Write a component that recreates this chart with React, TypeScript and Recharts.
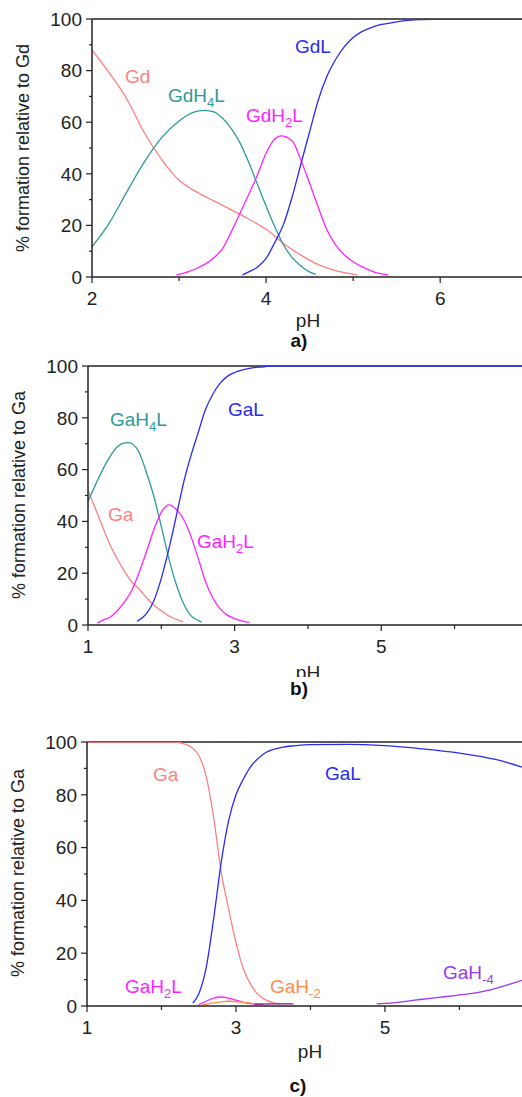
import React from "react";
import { LineChart, Line, XAxis, YAxis, ReferenceLine } from "recharts";

const FONT = "'Liberation Sans', Arial, sans-serif";

// ---- panel a) Gd ----
const gdPhA = [2.0, 2.2, 2.4, 2.6, 2.8, 3.0, 3.2, 3.4, 3.6, 3.8, 4.0, 4.2, 4.4, 4.6, 4.8, 5.0, 5.05];
const gdValA = [88, 79, 69, 56, 45.5, 37.5, 33, 29.5, 26, 22.5, 18.5, 13, 8.5, 4.8, 2.5, 1.1, 0.8];
const gdh4lPhA = [2.0, 2.2, 2.4, 2.6, 2.8, 3.0, 3.1, 3.2, 3.3, 3.4, 3.5, 3.6, 3.7, 3.8, 3.9, 4.0, 4.1, 4.2, 4.3, 4.4, 4.5, 4.57];
const gdh4lValA = [11.7, 21, 33, 44.5, 54, 60.5, 62.8, 64.2, 64.6, 64, 61.5, 57.5, 52, 44.5, 36, 27.5, 19.5, 12.5, 7.5, 4.3, 2, 1];
const gdh2lPhA = [2.97, 3.1, 3.2, 3.3, 3.4, 3.5, 3.6, 3.7, 3.8, 3.9, 4.0, 4.1, 4.17, 4.3, 4.4, 4.5, 4.6, 4.7, 4.8, 4.9, 5.0, 5.1, 5.2, 5.3, 5.4];
const gdh2lValA = [0.8, 2, 3.3, 5, 7.5, 11, 17.5, 24.7, 32, 39.5, 48, 53.5, 54.7, 52.7, 45.3, 36.3, 27, 18.2, 12.4, 8.5, 5.9, 4, 2.5, 1.4, 0.8];
const gdlPhA = [3.73, 3.8, 3.9, 4.0, 4.1, 4.2, 4.3, 4.4, 4.5, 4.6, 4.7, 4.8, 4.9, 5.0, 5.1, 5.2, 5.3, 5.4, 5.6, 5.8, 6.0, 6.94];
const gdlValA = [0.8, 2, 3.8, 7.2, 13.4, 20.4, 31.1, 43.8, 56.3, 68.6, 77.9, 84.4, 89.3, 92.8, 95.1, 96.6, 97.7, 98.3, 99.4, 99.8, 100, 100];

// ---- panel b) Ga ----
const gaPhB = [1.0, 1.1, 1.2, 1.3, 1.4, 1.5, 1.6, 1.7, 1.8, 1.9, 2.0, 2.1, 2.2, 2.3];
const gaValB = [52, 45, 37.8, 31, 25.5, 20.6, 16.5, 13.8, 10.5, 7.6, 5.5, 3.5, 2.3, 1.2];
const gah4lPhB = [1.0, 1.1, 1.2, 1.3, 1.4, 1.5, 1.55, 1.6, 1.7, 1.8, 1.9, 2.0, 2.1, 2.2, 2.3, 2.4, 2.5, 2.55];
const gah4lValB = [47.7, 54, 60, 65, 68.8, 70.3, 70.4, 70, 66.5, 58.6, 49.5, 38, 26, 16, 8.5, 3.7, 1.8, 1.2];
const gah2lPhB = [1.13, 1.2, 1.3, 1.4, 1.5, 1.6, 1.7, 1.8, 1.9, 2.0, 2.1, 2.2, 2.3, 2.4, 2.5, 2.6, 2.7, 2.8, 2.9, 3.0, 3.1, 3.2];
const gah2lValB = [0.8, 1.8, 3, 5.5, 9, 13.5, 20.5, 28.5, 37, 43.5, 46.4, 44.8, 41, 34.5, 26, 17, 10.5, 6.3, 3.8, 2.5, 1.6, 1];
const galPhB = [1.67, 1.8, 1.9, 2.0, 2.1, 2.2, 2.3, 2.4, 2.5, 2.6, 2.7, 2.8, 2.9, 3.0, 3.2, 3.4, 3.5, 6.92];
const galValB = [1.4, 4.5, 9.5, 18, 29, 41.5, 54.5, 65, 74, 83, 89, 93.3, 96, 97.5, 99.1, 99.7, 100, 100];

// ---- panel c) Ga ----
const gaPhC = [1.0, 2.2, 2.3, 2.4, 2.5, 2.6, 2.7, 2.8, 2.9, 3.0, 3.1, 3.2, 3.3, 3.4, 3.5, 3.6];
const gaValC = [100, 100, 99.3, 98, 95, 87, 71.5, 51, 37, 24, 14, 8, 4.2, 2.3, 1.2, 0.8];
const galPhC = [2.42, 2.5, 2.6, 2.7, 2.8, 2.9, 3.0, 3.1, 3.2, 3.3, 3.4, 3.6, 3.8, 4.0, 4.5, 5.0, 5.5, 6.0, 6.5, 6.84];
const galValC = [1.1, 4.5, 14.5, 33, 54, 70, 80, 86, 90.8, 93.8, 96, 97.9, 98.6, 99, 99.1, 98.6, 97.4, 95.8, 93.3, 90.5];
const gah2lPhC = [2.5, 2.6, 2.7, 2.8, 2.9, 3.0, 3.1, 3.2, 3.3];
const gah2lValC = [0.5, 1.8, 3, 3.4, 3, 2.2, 1.4, 0.9, 0.6];
const gahm2PhC = [2.55, 2.7, 2.8, 2.9, 3.0, 3.1, 3.2, 3.3, 3.37];
const gahm2ValC = [0.4, 1.2, 1.6, 1.8, 1.7, 1.4, 1.1, 0.8, 0.6];
const gahm1PhC = [3.25, 3.5, 3.77];
const gahm1ValC = [0.7, 0.8, 0.8];
const gahm4PhC = [4.89, 5.0, 5.2, 5.4, 5.6, 5.8, 6.0, 6.2, 6.4, 6.6, 6.84];
const gahm4ValC = [0.8, 1.0, 1.5, 2.2, 2.9, 3.5, 4.2, 4.9, 6.0, 7.6, 9.7];

const yTicks = [0, 10, 20, 30, 40, 50, 60, 70, 80, 90, 100];

const SALMON = "#ff8080";
const TEAL = "#2e9a96";
const MAGENTA = "#ff22ff";
const BLUE = "#2a2af5";
const ORANGE = "#ff8c4a";
const VIOLET = "#9a35f5";
const DARKPURPLE = "#7a1a90";

type Pt = { ph: number; v: number };
const zip = (xs: number[], ys: number[]): Pt[] => xs.map((x, i) => ({ ph: x, v: ys[i] }));

interface Series {
  name: string;
  color: string;
  data: Pt[];
}

const YTick = (props: any) => {
  const { x, y, payload } = props;
  const major = payload.value % 20 === 0;
  return (
    <g>
      <line x1={x - (major ? 6 : 3)} x2={x} y1={y} y2={y} stroke="#222" strokeWidth={1.2} />
      {major && (
        <text x={x - 10} y={y + 6.8} textAnchor="end" fontSize={19} fill="#222" fontFamily={FONT}>
          {payload.value}
        </text>
      )}
    </g>
  );
};

const makeXTick = (majors: number[]) => (props: any) => {
  const { x, y, payload } = props;
  const major = majors.includes(payload.value);
  return (
    <g>
      <line x1={x} x2={x} y1={y} y2={y + (major ? 6 : 4)} stroke="#222" strokeWidth={1.2} />
      {major && (
        <text x={x} y={y + 28} textAnchor="middle" fontSize={19} fill="#222" fontFamily={FONT}>
          {payload.value}
        </text>
      )}
    </g>
  );
};

interface PanelProps {
  top: number;
  height: number;
  plotTop: number;
  plotBottom: number;
  left: number;
  domain: [number, number];
  xTicks: number[];
  majors: number[];
  series: Series[];
}

function Panel({ top, height, plotTop, plotBottom, left, domain, xTicks, majors, series }: PanelProps) {
  return (
    <div style={{ position: "absolute", left: 0, top, width: 522, height }}>
      <LineChart width={522} height={height} margin={{ top: plotTop, right: 0, bottom: 0, left: 0 }}>
        <XAxis
          type="number"
          dataKey="ph"
          domain={domain}
          ticks={xTicks}
          allowDataOverflow
          height={height - plotBottom}
          axisLine={{ stroke: "#222", strokeWidth: 1.5 }}
          tickLine={false}
          tickSize={0}
          tickMargin={0}
          tick={makeXTick(majors)}
          interval={0}
        />
        <YAxis
          type="number"
          domain={[0, 100]}
          ticks={yTicks}
          allowDataOverflow
          width={left}
          axisLine={{ stroke: "#222", strokeWidth: 1.5 }}
          tickLine={false}
          tickSize={0}
          tickMargin={0}
          tick={YTick}
          interval={0}
        />
        <ReferenceLine y={100} stroke="#222" strokeWidth={1.5} />
        {series.map((s) => (
          <Line
            key={s.name}
            data={s.data}
            dataKey="v"
            name={s.name}
            type="monotone"
            stroke={s.color}
            strokeWidth={1.3}
            dot={false}
            isAnimationActive={false}
          />
        ))}
      </LineChart>
    </div>
  );
}

const Species = ({ x, y, color, base, sub, tail }: { x: number; y: number; color: string; base: string; sub?: string; tail?: string }) => (
  <text x={x} y={y} fill={color} fontSize={19} fontFamily={FONT}>
    {base}
    {sub && (
      <tspan dy={5} fontSize={13}>
        {sub}
      </tspan>
    )}
    {tail && <tspan dy={-5}>{tail}</tspan>}
  </text>
);

const YTitle = ({ cx, cy, text }: { cx: number; cy: number; text: string }) => (
  <text
    transform={`translate(${cx},${cy}) rotate(-90)`}
    textAnchor="middle"
    dominantBaseline="central"
    fontSize={18}
    fill="#222"
    fontFamily={FONT}
  >
    {text}
  </text>
);

export default function App() {
  const seriesA: Series[] = [
    { name: "Gd", color: SALMON, data: zip(gdPhA, gdValA) },
    { name: "GdH4L", color: TEAL, data: zip(gdh4lPhA, gdh4lValA) },
    { name: "GdH2L", color: MAGENTA, data: zip(gdh2lPhA, gdh2lValA) },
    { name: "GdL", color: BLUE, data: zip(gdlPhA, gdlValA) },
  ];
  const seriesB: Series[] = [
    { name: "Ga", color: SALMON, data: zip(gaPhB, gaValB) },
    { name: "GaH4L", color: TEAL, data: zip(gah4lPhB, gah4lValB) },
    { name: "GaH2L", color: MAGENTA, data: zip(gah2lPhB, gah2lValB) },
    { name: "GaL", color: BLUE, data: zip(galPhB, galValB) },
  ];
  const seriesC: Series[] = [
    { name: "Ga", color: SALMON, data: zip(gaPhC, gaValC) },
    { name: "GaL", color: BLUE, data: zip(galPhC, galValC) },
    { name: "GaH2L", color: MAGENTA, data: zip(gah2lPhC, gah2lValC) },
    { name: "GaH-2", color: ORANGE, data: zip(gahm2PhC, gahm2ValC) },
    { name: "GaH-1", color: DARKPURPLE, data: zip(gahm1PhC, gahm1ValC) },
    { name: "GaH-4", color: VIOLET, data: zip(gahm4PhC, gahm4ValC) },
  ];

  return (
    <div style={{ position: "absolute", left: 0, top: 0, width: 522, height: 1097, background: "#fff", overflow: "hidden" }}>
      <Panel top={0} height={312} plotTop={19} plotBottom={277} left={92} domain={[2, 6.94]} xTicks={[2, 3, 4, 5, 6]} majors={[2, 4, 6]} series={seriesA} />
      <Panel top={350} height={312} plotTop={16} plotBottom={275} left={88} domain={[1, 6.92]} xTicks={[1, 2, 3, 4, 5, 6]} majors={[1, 3, 5]} series={seriesB} />
      <Panel top={720} height={318} plotTop={22} plotBottom={286} left={87} domain={[1, 6.84]} xTicks={[1, 2, 3, 4, 5, 6]} majors={[1, 3, 5]} series={seriesC} />
      <svg width={522} height={1097} style={{ position: "absolute", left: 0, top: 0, pointerEvents: "none" }}>
        {/* panel a */}
        <YTitle cx={23} cy={148} text="% formation relative to Gd" />
        <Species x={125} y={83} color={SALMON} base="Gd" />
        <Species x={168} y={102} color={TEAL} base="GdH" sub="4" tail="L" />
        <Species x={246} y={122} color={MAGENTA} base="GdH" sub="2" tail="L" />
        <Species x={295} y={53} color={BLUE} base="GdL" />
        <text x={308} y={327} textAnchor="middle" fontSize={19} fill="#222" fontFamily={FONT}>pH</text>
        <text x={299} y={347} textAnchor="middle" fontSize={19} fontWeight="bold" fill="#111" fontFamily={FONT}>a)</text>

        {/* panel b */}
        <YTitle cx={19} cy={495} text="% formation relative to Ga" />
        <Species x={110} y={426} color={TEAL} base="GaH" sub="4" tail="L" />
        <Species x={108} y={521} color={SALMON} base="Ga" />
        <Species x={197} y={548} color={MAGENTA} base="GaH" sub="2" tail="L" />
        <Species x={228} y={416} color={BLUE} base="GaL" />
        <text x={308} y={679} textAnchor="middle" fontSize={19} fill="#222" fontFamily={FONT}>pH</text>
        <rect x={270} y={677} width={80} height={24} fill="#fff" />
        <text x={299} y={695} textAnchor="middle" fontSize={19} fontWeight="bold" fill="#111" fontFamily={FONT}>b)</text>

        {/* panel c */}
        <YTitle cx={18} cy={873} text="% formation relative to Ga" />
        <Species x={153} y={781} color={SALMON} base="Ga" />
        <Species x={325} y={780} color={BLUE} base="GaL" />
        <Species x={125} y={993} color={MAGENTA} base="GaH" sub="2" tail="L" />
        <Species x={270} y={993} color={ORANGE} base="GaH" sub="-2" />
        <Species x={443} y={979} color={VIOLET} base="GaH" sub="-4" />
        <text x={310} y={1058} textAnchor="middle" fontSize={19} fill="#222" fontFamily={FONT}>pH</text>
        <text x={298} y={1092} textAnchor="middle" fontSize={19} fontWeight="bold" fill="#111" fontFamily={FONT}>c)</text>
      </svg>
    </div>
  );
}
